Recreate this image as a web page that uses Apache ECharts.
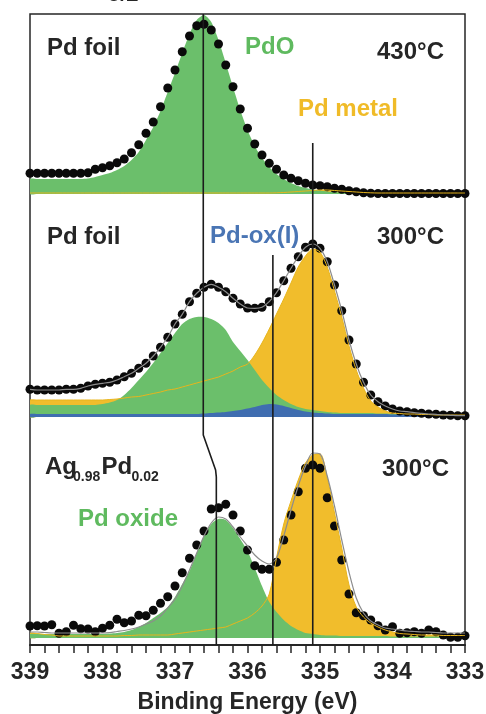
<!DOCTYPE html>
<html>
<head>
<meta charset="utf-8">
<script src="https://cdn.jsdelivr.net/npm/echarts@6.0.0/dist/echarts.min.js"></script>
<style>
  html, body { margin: 0; padding: 0; background: #fff; }
  #chart { width: 486px; height: 714px; }
</style>
</head>
<body>
<div id="chart"></div>
<script>
// binding energy grid (eV), one point every 0.1 eV
const energy = [
  339.0, 338.9, 338.8, 338.7, 338.6, 338.5, 338.4, 338.3, 338.2, 338.1,
  338.0, 337.9, 337.8, 337.7, 337.6, 337.5, 337.4, 337.3, 337.2, 337.1,
  337.0, 336.9, 336.8, 336.7, 336.6, 336.5, 336.4, 336.3, 336.2, 336.1,
  336.0, 335.9, 335.8, 335.7, 335.6, 335.5, 335.4, 335.3, 335.2, 335.1,
  335.0, 334.9, 334.8, 334.7, 334.6, 334.5, 334.4, 334.3, 334.2, 334.1,
  334.0, 333.9, 333.8, 333.7, 333.6, 333.5, 333.4, 333.3, 333.2, 333.1,
  333.0
];
const xTicks = [339, 338, 337, 336, 335, 334, 333];

// vertical offsets of the three spectra (a.u.)
const offsetTop = 451, offsetMid = 228, offsetLow = 7;

// Pd foil 430 C
const foil430Data = [
  20.7, 20.7, 20.7, 20.7, 20.7, 20.7, 20.7, 20.7, 21.3, 24.7,
  26.3, 28.3, 31.3, 35, 41.3, 49.3, 60.7, 72, 87.3, 106,
  124, 142.3, 158, 168.3, 169.7, 164, 150, 129, 107.3, 85,
  65.7, 50, 39, 30.7, 24.7, 19, 15.7, 13.3, 10.7, 9,
  8.3, 7.3, 5.7, 4.7, 3.3, 2.3, 1.3, 0.7, 0.5, 0.5,
  0.5, 0.5, 0.5, 0.5, 0.5, 0.5, 0.5, 0.5, 0.5, 0.5,
  0.5
];
const foil430PdO = [
  15, 15, 15, 15, 15, 15, 15, 15, 15.5, 17,
  19, 21, 24, 28, 34, 42, 54, 67, 83, 102,
  121, 141, 160, 174, 179, 172, 154, 131, 107, 84,
  64, 48, 36, 27, 20, 15, 11, 8, 6, 4.5,
  3.5, 2.5, 2, 1.5, 1, 0.5, 0.5, 0.5, 0.5, 0.5,
  0.3, 0.3, 0.3, 0.3, 0.3, 0.3, 0.3, 0.3, 0.3, 0.3,
  0.3
];
const foil430Metal = [
  1, 1, 1, 1, 1, 1, 1, 1, 1, 1,
  1, 1, 1, 1, 1, 1, 1, 1, 1, 1,
  1, 1, 1, 1, 1, 1, 1, 1, 1, 1,
  1, 1, 1, 1, 1.2, 1.5, 2, 2.5, 3, 3.5,
  4, 4, 3.5, 3, 2.5, 2, 1.5, 1.2, 1, 1,
  1, 1, 1, 1, 1, 1, 1, 1, 1, 1,
  1
];

// Pd foil 300 C
const foil300Data = [
  27.7, 27, 27, 27, 27, 27.7, 27.7, 28.7, 31, 32.7,
  33.7, 34.7, 37, 40.3, 43.7, 48.7, 53.7, 61, 69.7, 79.7,
  93, 102.7, 115.3, 123.7, 129.7, 132.7, 129.7, 125.3, 118.7, 113,
  109, 108.7, 109.7, 115.3, 124.3, 136.3, 148.7, 160.3, 169.7, 173,
  168.7, 155.3, 132, 106.3, 77, 53, 34.7, 22, 15.3, 11,
  8, 6, 5.3, 4.3, 3.7, 3, 2.7, 2, 1.7, 1.3,
  1.3
];
const foil300PdO = [
  12, 12, 12, 12, 12, 12, 12, 12, 12, 12,
  13, 14.5, 17, 22, 29, 37, 45, 54, 64, 74,
  84, 93, 98, 100, 100, 98, 94, 87, 75, 66,
  57, 47, 37, 29, 22, 17, 13, 10, 8, 7,
  6, 5, 4.5, 4, 4, 4, 4, 4, 3.5, 3.5,
  3, 3, 3, 2.5, 2.5, 2.5, 2, 2, 2, 2,
  2
];
const foil300Metal = [
  17, 17, 17, 17, 17, 17, 17, 17, 17, 17,
  17, 17.5, 18, 19, 20, 20.5, 22, 23.5, 25, 27,
  28, 30, 32, 34, 36, 38, 40, 43, 46, 50,
  53, 62, 74, 88, 103, 118, 134, 150, 161, 168,
  165, 150, 126, 100, 71, 47, 29, 16, 10, 6,
  4, 3.5, 3, 3, 2.5, 2.5, 2, 2, 2, 2,
  2
];
const foil300OxI = [
  3, 3, 3, 3, 3, 3, 3, 3, 3, 3,
  3, 3, 3, 3, 3, 3, 3, 3, 3, 3,
  3, 3, 3, 3, 3.5, 4, 4.5, 5, 6, 7,
  8.5, 10, 12, 13, 12.5, 11, 9, 7, 5.5, 4.5,
  4, 3.5, 3, 3, 3, 3, 3, 3, 3, 3,
  2.5, 2.5, 2.5, 2.5, 2.5, 2.5, 2.5, 2.5, 2.5, 2.5,
  2.5
];

// Ag0.98Pd0.02 300 C
const alloyData = [
  12, 12.3, 12, 13.3, 4.7, 6.3, 12.7, 9.3, 9, 6.3,
  9.7, 12.7, 18.7, 15.3, 17, 22.7, 22.3, 27.7, 34.7, 41.3,
  52, 65.3, 79.7, 93, 107, 129, 130.3, 133.7, 123, 107,
  88, 72.3, 68.7, 68.7, 75.7, 98, 123, 146.3, 169.7, 173,
  169.7, 140.3, 112, 78, 44, 25.3, 22.3, 18, 12.3, 8,
  11.3, 4.7, 5.3, 6.3, 4.7, 8, 6.3, 3, 0.7, 0.7,
  2.3
];
const alloyOxide = [
  4, 4, 4, 4, 4, 4, 4, 4, 4, 4,
  4, 4.5, 5, 6, 8, 11, 15, 20, 25, 31,
  41, 54, 67, 85, 102, 114, 119, 118, 110, 99,
  87, 70, 52, 36, 26, 18, 12, 8, 5, 4,
  3, 2.5, 2.5, 2, 2, 2, 2, 2, 2, 2,
  1.5, 1.5, 1.5, 1.5, 1.5, 1.5, 1.5, 1.5, 1.5, 1.5,
  1.5
];
const alloyMetal = [
  5, 4.5, 3.5, 3, 2, 2, 2, 2, 2, 2,
  2, 2, 2, 2.5, 2.5, 3, 3, 3, 3, 3,
  4, 5, 6, 7, 8, 9, 10, 11, 14, 17,
  20, 25, 32, 44, 80, 114, 137, 158, 175, 183,
  184, 160, 125, 90, 53, 31, 21, 15, 11, 8,
  6, 4.5, 4, 3.5, 3, 3, 3, 2.5, 2.5, 2.5,
  2.5
];
const alloyEnvelope = [
  6, 6, 5.5, 5, 5, 5, 5, 5, 5, 5,
  5, 5.5, 6.5, 7.5, 9, 11, 14, 17, 22, 30,
  39, 52, 68, 85, 102, 115, 121, 119, 111, 101,
  92, 83, 77, 74, 80, 102, 128, 152, 172, 185,
  184, 162, 132, 98, 66, 40, 25, 17, 13, 10,
  9, 8, 7, 6.5, 6, 6, 5.5, 5, 5, 5,
  5
];

// guide lines [eV, a.u.]
const guideOxide = [[336.61, 631], [336.61, 210], [336.44, 175], [336.43, 168], [336.43, 0]];
const guideOxI = [[335.65, 390], [335.65, 0]];
const guideMetal = [[335.10, 502], [335.10, 0]];

const FONT = 'Arial, "Liberation Sans", sans-serif';
const INK = '#262626';
const GREEN = '#6bbf6b', YELLOW = '#f1bd2c', BLUE = '#3f6db0';
const GREEN_TXT = '#5fba5f', YELLOW_TXT = '#f0bb28', BLUE_TXT = '#4a75b4';

const shifted = (vals, off) => energy.map((e, i) => [e, vals[i] + off]);

// filled component drawn down to its own spectrum baseline
function band(vals, off, color) {
  return {
    type: 'custom', silent: true, clip: true,
    data: [0],
    renderItem: (params, api) => {
      const top = energy.map((e, i) => api.coord([e, vals[i] + off]));
      const base = energy.slice().reverse().map(e => api.coord([e, off]));
      return {
        type: 'polygon',
        shape: { points: top.concat(base), smooth: 0.25 },
        style: { fill: color }
      };
    }
  };
}

function thinLine(data, color, width) {
  return { type: 'line', silent: true, symbol: 'none', smooth: 0.3, data: data,
    lineStyle: { color: color, width: width } };
}

function guide(data) {
  return { type: 'line', silent: true, symbol: 'none', data: data,
    lineStyle: { color: '#1c1c1c', width: 1.6 } };
}

function dots(vals, off) {
  return { type: 'scatter', silent: true, symbol: 'circle', symbolSize: 9,
    data: shifted(vals, off), itemStyle: { color: '#0a0a0a', opacity: 1 } };
}

function label(text, x, y, fill, size) {
  return { type: 'text', x: x, y: y, z: 20, silent: true,
    style: { text: text, fill: fill, fontFamily: FONT, fontWeight: 'bold',
      fontSize: size || 24, align: 'left', verticalAlign: 'middle' } };
}

const chart = echarts.init(document.getElementById('chart'));

chart.setOption({
  animation: false,
  backgroundColor: '#fff',
  grid: { left: 30, right: 21, top: 14, bottom: 69, show: true,
    borderColor: INK, borderWidth: 1.5, outerBoundsMode: 'none' },
  xAxis: {
    type: 'value', inverse: true, min: xTicks[xTicks.length - 1], max: xTicks[0], interval: 1,
    axisLine: { onZero: false, lineStyle: { color: INK, width: 2 } },
    axisTick: { show: true, inside: false, length: 8, lineStyle: { color: INK, width: 1.5 } },
    minorTick: { show: true, splitNumber: 5, length: 8, lineStyle: { color: INK, width: 1.5 } },
    axisLabel: { color: INK, fontSize: 23, fontWeight: 'bold', fontFamily: FONT, margin: 16,
      showMinLabel: true, showMaxLabel: true },
    splitLine: { show: false },
    name: 'Binding Energy (eV)', nameLocation: 'middle', nameGap: 46,
    nameTextStyle: { color: INK, fontSize: 23, fontWeight: 'bold', fontFamily: FONT }
  },
  yAxis: { type: 'value', min: 0, max: 631, show: false },
  series: [
    band(foil430Metal, offsetTop, YELLOW),
    band(foil430PdO, offsetTop, GREEN),
    band(foil300Metal, offsetMid, YELLOW),
    band(foil300PdO, offsetMid, GREEN),
    band(foil300OxI, offsetMid, BLUE),
    band(alloyMetal, offsetLow, YELLOW),
    band(alloyOxide, offsetLow, GREEN),
    thinLine(shifted(foil430Metal, offsetTop), '#e8b51c', 1),
    thinLine(shifted(foil300Metal, offsetMid), '#e8b51c', 1),
    thinLine(shifted(alloyMetal, offsetLow), '#e8b51c', 1),
    thinLine(shifted(foil300Data, offsetMid), '#8c8c8c', 1.2),
    thinLine(shifted(alloyEnvelope, offsetLow), '#8c8c8c', 1.2),
    guide(guideOxide),
    guide(guideOxI),
    guide(guideMetal),
    dots(foil430Data, offsetTop),
    dots(foil300Data, offsetMid),
    dots(alloyData, offsetLow)
  ],
  graphic: [
    label('5/2', 108, -4.7, INK, 22),
    label('Pd foil', 47, 48, INK),
    label('PdO', 245, 47.5, GREEN_TXT),
    label('430°C', 377, 52.5, INK),
    label('Pd metal', 298, 109, YELLOW_TXT),
    label('Pd foil', 47, 237.5, INK),
    label('Pd-ox(I)', 210, 236.5, BLUE_TXT),
    label('300°C', 377, 237.5, INK),
    label('Ag', 45, 467, INK),
    label('0.98', 73, 477, INK, 14),
    label('Pd', 101.5, 467, INK),
    label('0.02', 131.5, 477, INK, 14),
    label('Pd oxide', 78, 519.5, GREEN_TXT),
    label('300°C', 382, 469, INK)
  ]
});
</script>
</body>
</html>
